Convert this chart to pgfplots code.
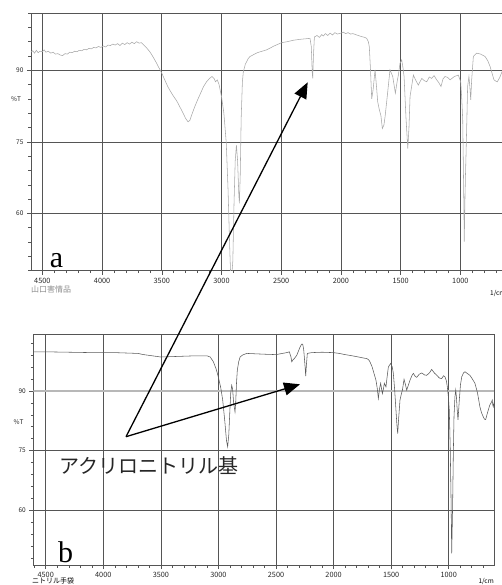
\documentclass[border=0pt]{standalone}
\usepackage{pgfplots}
\pgfplotsset{compat=1.18}
\usepackage{fontspec}
\usetikzlibrary{arrows.meta}
\setmainfont{Liberation Serif}
\newfontfamily\cjk{Noto Sans CJK JP}
\definecolor{gridc}{HTML}{555555}
\definecolor{specA}{HTML}{A8A8A8}
\definecolor{specB}{HTML}{5A5A5A}
\pgfplotsset{
  irstyle/.style={
    scale only axis, x dir=reverse,
    axis line style={gridc, line width=0.6pt},
    tick pos=left, tick align=outside,
    major tick length=4pt, minor tick length=2.5pt,
    every tick/.style={gridc, line width=0.5pt},
    xtick={1000,1500,...,4500}, minor xtick={600,700,...,4600},
    ytick={60,75,90}, minor ytick={45,48,...,105},
    grid=major, major grid style={gridc, line width=0.6pt},
    /pgf/number format/assume math mode=true,
    /pgf/number format/set thousands separator={},
    yticklabel style={font=\fontsize{6.5}{7}\selectfont\cjk, text=black!85},
    xticklabel style={font=\fontsize{7.3}{8}\selectfont\cjk, text=black!85},
    clip=true,
  }
}
\begin{document}
\begin{tikzpicture}[x=1pt,y=1pt]
\useasboundingbox (0,0) rectangle (502,585);
\clip (0,0) rectangle (502,585);
% ---------- top spectrum (a) ----------
\begin{axis}[irstyle, at={(31pt,314.4pt)}, anchor=south west,
  width=477.1pt, height=257.5pt,
  xmin=600, xmax=4595, ymin=48, ymax=102]
\addplot[specA, line width=0.55pt] coordinates {
(4595,93.8)(4580,94.1)(4565,93.6)(4550,94.2)(4535,93.7)(4520,94.0)(4500,93.9)(4485,94.3)
(4470,93.8)(4450,94.0)(4430,93.6)(4410,93.8)(4390,93.4)(4370,93.5)(4350,93.2)(4330,93.1)
(4310,93.5)(4290,93.4)(4270,93.8)(4250,93.7)(4230,94.0)(4210,93.9)(4190,94.2)(4170,94.1)
(4150,94.4)(4130,94.3)(4110,94.6)(4090,94.5)(4070,94.8)(4050,94.7)(4030,95.0)(4010,94.8)
(3990,95.1)(3970,94.9)(3950,95.3)(3930,95.2)(3910,95.5)(3890,95.3)(3870,95.6)(3850,95.2)
(3830,95.7)(3810,95.4)(3790,95.8)(3770,95.5)(3750,95.9)(3730,95.6)(3710,96.0)(3690,95.7)
(3670,95.8)(3650,95.3)(3630,94.8)(3610,94.2)(3600,93.9)(3575,92.9)(3550,91.8)(3525,90.6)
(3500,89.4)(3475,88.0)(3450,86.6)(3425,85.5)(3400,84.5)(3375,83.6)(3350,82.4)(3325,81.2)
(3300,79.9)(3280,79.2)(3265,79.5)(3250,80.6)(3225,82.3)(3200,83.8)(3175,85.2)(3150,86.6)
(3125,87.6)(3100,88.3)(3080,88.7)(3060,88.2)(3050,87.6)(3035,88.0)(3020,87.0)(3000,84.5)
(2980,81.0)(2960,74.8)(2945,65)(2930,52)(2920,45)(2905,50)(2895,62)(2885,71)(2875,74.3)
(2865,71)(2855,64)(2850,62.1)(2843,68)(2835,80)(2825,87.5)(2817,89.7)(2800,91.3)(2775,92.5)
(2761,92.9)(2700,93.7)(2621,94.3)(2560,95.1)(2496,95.8)(2450,96.0)(2400,96.3)(2342,96.5)
(2300,96.6)(2259,96.7)(2248,95)(2240,89.5)(2236,88.3)(2230,93)(2222,97.0)(2200,97.3)
(2180,96.9)(2160,97.5)(2147,97.2)(2130,97.7)(2110,97.3)(2090,97.8)(2070,97.4)(2050,97.9)
(2030,97.6)(2000,97.8)(1980,98.0)(1960,97.7)(1940,97.9)(1920,97.6)(1900,97.7)(1867,97.4)
(1830,97.1)(1800,96.9)(1784,96.7)(1770,96.0)(1762,94.9)(1752,90)(1742,84.0)(1730,86)
(1714,90.1)(1700,86)(1692,83.4)(1678,81.7)(1665,80.5)(1653,77.8)(1640,78.5)(1630,80.3)
(1610,85)(1589,90.1)(1566,88.7)(1544,85.2)(1530,87.5)(1519,89.0)(1505,91.5)(1491,92.2)
(1480,90.5)(1471,88.7)(1455,80)(1440,73.6)(1430,78)(1421,84.5)(1393,89.0)(1375,88)
(1352,86.9)(1323,88.3)(1300,87.8)(1281,87.6)(1260,88.6)(1240,88.3)(1220,88.9)(1198,88.0)
(1180,87.4)(1162,86.6)(1145,88.2)(1128,88.7)(1105,88.5)(1086,88.0)(1050,88.7)(1017,89.0)
(997,87.6)(988,84)(980,79.6)(972,65)(967,54.1)(962,62)(957,68)(952,72.6)(945,80)(939,86.6)
(928,88.7)(920,86.5)(913,83.8)(905,88)(891,92.9)(863,93.6)(830,93.4)(793,92.9)(770,92.0)
(751,90.8)(730,89)(718,88.0)(700,87.7)(690,87.6)(670,88.5)(651,89.7)(630,90)(600,90)
};
\end{axis}
% ---------- bottom spectrum (b) ----------
\begin{axis}[irstyle, at={(33.3pt,20pt)}, anchor=south west,
  width=461pt, height=230.7pt,
  xmin=604, xmax=4608, ymin=46.3, ymax=104.2]
\addplot[black!28, line width=1.6pt, forget plot] coordinates {(604,90)(4608,90)};
\addplot[specB, line width=0.55pt] coordinates {
(4608,99.8)(4500,99.8)(4300,99.7)(4100,99.6)(4000,99.6)(3900,99.6)(3800,99.5)(3700,99.4)
(3650,99.1)(3600,98.9)(3550,98.7)(3500,98.5)(3400,98.6)(3300,98.7)(3200,98.8)(3100,98.8)
(3071,98.5)(3044,97.3)(3020,95.5)(3001,93.5)(2980,90.8)(2963,87.7)(2945,82.5)(2930,77.5)
(2920,76.0)(2910,79)(2900,85.5)(2893,89.5)(2885,91.4)(2877,90.5)(2868,87)(2856,84.7)
(2850,87)(2843,92)(2836,95.2)(2824,97.3)(2812,98.5)(2790,99.0)(2754,99.4)(2600,99.2)
(2500,99.1)(2407,99.6)(2384,99.8)(2370,98.5)(2363,97.3)(2352,97.8)(2341,98.1)(2320,98.9)
(2305,100.0)(2291,101.0)(2278,101.7)(2268,101.7)(2260,100.5)(2254,98.5)(2246,95.5)
(2242,93.7)(2236,96.5)(2228,99.4)(2210,99.5)(2190,99.6)(2100,99.7)(2002,99.6)(1950,99.4)
(1900,99.1)(1857,98.9)(1800,98.6)(1750,98.3)(1712,98.1)(1695,97.8)(1684,97.3)(1665,96.0)
(1649,94.4)(1632,92.7)(1620,90.5)(1611,88.1)(1601,90.5)(1591,91.9)(1583,90.5)(1576,89.3)
(1567,90.5)(1559,91.9)(1545,91.0)(1535,93.5)(1524,96.0)(1504,96.9)(1490,96.0)(1481,94.4)
(1470,90.5)(1460,86.0)(1450,81.5)(1443,79.3)(1435,83)(1423,87.7)(1410,89.4)(1402,90.2)
(1388,92.9)(1375,91.5)(1365,90.2)(1350,91.5)(1336,92.7)(1320,93.8)(1307,94.4)(1290,93.6)
(1278,93.4)(1255,94.2)(1234,94.5)(1210,94.0)(1191,93.9)(1165,94.6)(1148,95.4)(1125,94.5)
(1104,93.9)(1080,93.2)(1061,93.1)(1045,93.8)(1032,93.5)(1020,92.5)(1012,91.0)(1003,88.5)
(995,85.2)(987,76)(980,63.4)(974,49.2)(968,58)(965,63.4)(960,74)(954,83.5)(946,88.5)
(939,90.2)(933,88.5)(928,86.0)(923,84)(919,82.7)(914,85)(908,87.7)(898,91.5)(887,93.5)
(872,94.5)(859,94.8)(840,94.4)(816,93.9)(795,93.0)(772,91.9)(750,89.5)(729,86.0)(715,84.5)
(700,83.5)(690,82.9)(679,82.8)(668,84)(656,85.2)(645,86.3)(636,86.8)(628,87.2)(622,87.7)
(617,86.5)(613,86.0)(608,86.8)(604,86.5)
};
\end{axis}
% ---------- labels ----------
\node[font=\fontsize{6.5}{7}\selectfont\cjk, text=black!85] at (16,486) {\%T};
\node[font=\fontsize{6.5}{7}\selectfont\cjk, text=black!85] at (18.5,163.3) {\%T};
\node[anchor=base, inner sep=0, font=\fontsize{30}{30}\selectfont] at (56.5,317) {a};
\node[anchor=base, inner sep=0, font=\fontsize{30}{30}\selectfont] at (65.5,22) {b};
\node[anchor=west, inner sep=0, font=\fontsize{8}{8}\selectfont\cjk, text=black!45] at (31,296) {山口害情品};
\node[anchor=west, inner sep=0, font=\fontsize{7}{7}\selectfont\cjk] at (32,4) {ニトリル手袋};
\node[anchor=east, inner sep=0, font=\fontsize{6.5}{7}\selectfont\cjk] at (494,3.3) {1/cm};
\node[anchor=west, inner sep=0, font=\fontsize{6.5}{7}\selectfont\cjk] at (490,291) {1/cm};
\node[anchor=west, inner sep=0, font=\fontsize{20}{20}\selectfont\cjk, text=black!85] at (59,119) {アクリロニトリル基};
% ---------- arrows ----------
\draw[line width=1.3pt, -{Triangle[length=16pt,width=13pt]}] (126,148.3) -- (307.7,502.7);
\draw[line width=1.3pt, -{Triangle[length=16pt,width=13pt]}] (126,148.3) -- (300,200.7);
\end{tikzpicture}
\end{document}
